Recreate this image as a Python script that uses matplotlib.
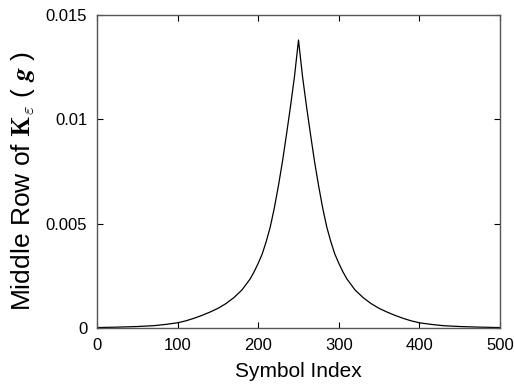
import matplotlib
matplotlib.use("Agg")
import matplotlib.pyplot as plt

# Middle row of the kernel matrix, sampled along the symbol index
symbol_index = [0, 25, 50, 70, 85, 100, 110, 120, 130, 140, 150, 160, 170,
                180, 190, 195, 200, 205, 210, 215, 220, 225, 230, 235, 240,
                245, 250,
                255, 260, 265, 270, 275, 280, 285, 290, 295, 300, 305, 310,
                320, 330, 340, 350, 360, 370, 380, 390, 400, 415, 430, 450,
                475, 500]
kernel_row = [0.00002, 0.00004, 0.00007, 0.00011, 0.00017, 0.00025, 0.00034,
              0.00046, 0.00060, 0.00076, 0.00094, 0.00117, 0.00146,
              0.00183, 0.00235, 0.00270, 0.00310, 0.00355, 0.00415, 0.00485,
              0.00575, 0.00680, 0.00795, 0.00925, 0.01060,
              0.01205, 0.01380,
              0.01205, 0.01060, 0.00925, 0.00795, 0.00680, 0.00575, 0.00485,
              0.00415, 0.00355, 0.00310, 0.00270, 0.00235,
              0.00183, 0.00146, 0.00117, 0.00094, 0.00076, 0.00060, 0.00046,
              0.00034, 0.00025, 0.00017, 0.00011, 0.00007,
              0.00004, 0.00002]

x_ticks = [0, 100, 200, 300, 400, 500]
y_ticks = [0, 0.005, 0.01, 0.015]
y_tick_labels = ["0", "0.005", "0.01", "0.015"]

plt.rcParams["font.family"] = ["Liberation Sans", "DejaVu Sans"]
plt.rcParams["mathtext.fontset"] = "cm"

fig = plt.figure(figsize=(5.14, 3.86), dpi=100)
ax = fig.add_axes([0.1887, 0.1503, 0.7841, 0.8108])

ax.plot(symbol_index, kernel_row, color="black", linewidth=0.9)

ax.set_xlim(0, 500)
ax.set_ylim(0, 0.015)
ax.set_xticks(x_ticks)
ax.set_xticklabels([str(t) for t in x_ticks])
ax.set_yticks(y_ticks)
ax.set_yticklabels(y_tick_labels)

ax.tick_params(direction="in", length=4.5, width=0.8, color="black",
               top=True, right=True, labelsize=12, pad=7)
for spine in ax.spines.values():
    spine.set_color("#555555")
    spine.set_linewidth(1.0)

ax.set_xlabel("Symbol Index", fontsize=15, labelpad=7)
ax.set_ylabel(r"Middle Row of $\mathbf{K}_{\varepsilon}$ ( $\boldsymbol{g}$ )",
              fontsize=19)
ax.yaxis.set_label_coords(-0.148, 0.47)

fig.savefig("out.png", dpi=100)
